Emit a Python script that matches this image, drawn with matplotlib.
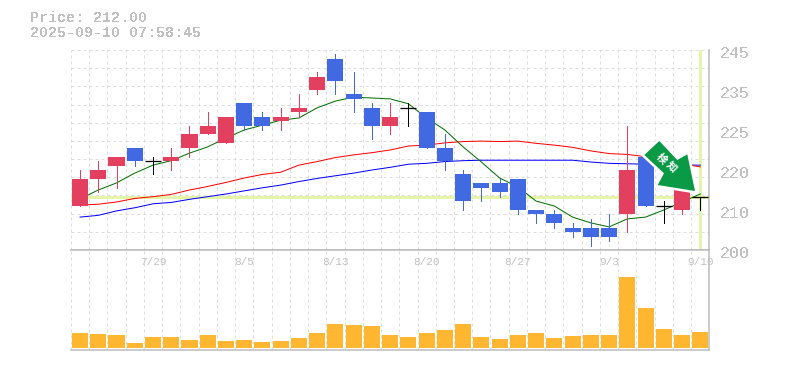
import numpy as np
import matplotlib
matplotlib.use("Agg")
import matplotlib.pyplot as plt
from matplotlib.patches import Polygon

W, H = 785, 370

# price data, 35 sessions
opens = [210, 216, 219, 223, 220, 220, 223, 226, 224, 233, 230, 229, 231, 236, 243, 235, 232, 228,
         232, 231, 223, 217, 215, 215, 216, 209, 208, 205, 205, 205, 208, 221, 210, 209, 212]
closes = [216, 218, 221, 220, 220, 221, 226, 228, 230, 228, 228, 230, 232, 239, 238, 234, 228, 230,
          232, 223, 220, 211, 214, 213, 209, 208, 206, 204, 203, 203, 218, 210, 210, 215, 212]
highs = [218, 220, 221, 223, 221, 223, 228, 231, 230, 233, 231, 232, 235, 240, 244, 240, 233, 233,
         233, 231, 226, 218, 215, 216, 216, 209, 209, 206, 207, 208, 228, 221, 211, 215, 212]
lows = [210, 213, 214, 219, 217, 218, 221, 226, 224, 227, 227, 227, 230, 235, 235, 231, 225, 226,
        228, 223, 218, 209, 211, 212, 208, 206, 205, 203, 201, 202, 204, 210, 206, 208, 209]

ma_short = [211.5, 213.5, 215.1, 217.3, 219.1, 220.1, 221.8, 223.2, 225.2, 227, 228.1, 229.2,
            229.7, 232, 233.5, 234.4, 234.2, 234, 232.9, 229.7, 227, 223.2, 219.8, 216.2, 214.2,
            211, 209.9, 207.4, 206.1, 205.2, 207, 207.4, 209, 210.8, 212.6]
ma_mid = [210.1, 210.3, 210.8, 211.6, 212, 212.5, 213.5, 214.3, 215.2, 216.2, 217, 217.5,
          219.1, 219.9, 220.8, 221.4, 221.9, 222.5, 223.4, 223.6, 224.1, 224.4, 224.5, 224.4,
          224.5, 224, 223.6, 223.1, 222.3, 221.7, 221.5, 221, 220.3, 219.4, 218.7]
ma_long = [207.4, 207.8, 208.8, 209.5, 210.4, 210.7, 211.4, 212, 212.6, 213.3, 214, 214.6,
           215.4, 216.1, 216.7, 217.3, 218, 218.6, 219.3, 219.5, 219.9, 220.1, 220.2, 220.2,
           220.2, 220.2, 220.2, 220.2, 219.8, 219.5, 219.4, 219.3, 219.1, 219.1, 219.1]
volume = [15, 14, 13, 5, 11, 11, 8, 13, 7, 8, 6, 7, 10, 15, 24, 23, 22, 13,
          11, 15, 18, 24, 11, 9, 13, 15, 10, 12, 13, 13, 71, 40, 19, 13, 16]

date_idx = [4, 9, 14, 19, 24, 29, 34]
date_labels = ["7/29", "8/5", "8/13", "8/20", "8/27", "9/3", "9/10"]
price_ticks = [245, 236, 227, 218, 209, 200]
price_labels = ["245", "235", "225", "220", "210", "200"]
price_now = 212.00
stamp = "2025-09-10 07:58:45"

UP = "#e3405f"
DOWN = "#4169e1"
GREY = "#c0c0c0"
PALE = "#e4f5a8"
GRID = "#dddddd"
px = 0.72

plt.rcParams["text.antialiased"] = False
plt.rcParams["font.family"] = ["Liberation Mono", "DejaVu Sans Mono"]

fig = plt.figure(figsize=(W / 100, H / 100), dpi=100)
left, width = 70.9 / W, 638.5 / W
ax1 = fig.add_axes([left, (H - 250) / H, width, 200 / H])
ax2 = fig.add_axes([left, (H - 350) / H, width, 100 / H])

x = np.arange(len(opens))
for ax in (ax1, ax2):
    ax.set_xlim(-0.5, 34.5)
    ax.set_xticks(np.arange(-0.5, 35))
    ax.tick_params(length=0, labelbottom=False, labelleft=False)
    ax.grid(axis="x", color=GRID, lw=1.0 * px, ls=(0, (3, 3)))
    ax.set_axisbelow(True)
    ax.spines["left"].set_visible(False)
    for side in ("top", "right", "bottom"):
        ax.spines[side].set_color("#bbbbbb")
        ax.spines[side].set_linewidth(1.5 * px)
ax1.spines["top"].set_visible(False)

# price panel
ax1.set_ylim(200, 245)
ax1.set_yticks(np.linspace(200, 245, 12))
ax1.grid(axis="y", color=GRID, lw=1.0 * px, ls=(0, (3, 3)))
for tick in ax1.yaxis.get_major_ticks():
    tick.gridline.set_clip_on(False)

ax1.axhline(price_now, color=PALE, lw=3 * px, zorder=1)
ax1.axvline(34, ymin=0.01, color=PALE, lw=3 * px, zorder=1)

ax1.plot(x, ma_long, color="#0000ff", lw=1.0 * px, zorder=2)
ax1.plot(x, ma_mid, color="#ff0000", lw=1.0 * px, zorder=2)
ax1.plot(x, ma_short, color="#006f00", lw=1.0 * px, zorder=2)

for i in x:
    o, c = opens[i], closes[i]
    if o == c:
        col = "black"
        ax1.hlines(o, i - 0.44, i + 0.44, color=col, lw=1.3 * px, zorder=3)
    else:
        col = UP if c > o else DOWN
        ax1.bar(i, abs(c - o), bottom=min(o, c), width=0.88, color=col, antialiased=False, zorder=3)
    ax1.vlines(i, lows[i], highs[i], color=col, lw=1.0 * px, antialiased=False,
               zorder=2.5 if o != c else 3)

for tick, label in zip(price_ticks, price_labels):
    ax1.annotate(label, xy=(1, tick), xycoords=("axes fraction", "data"), xytext=(7.5, -2.2),
                 textcoords="offset points", va="center", ha="left", color=GREY, fontsize=12,
                 annotation_clip=False)

# volume panel
ax2.set_ylim(-2, 98)
ax2.set_yticks([])
ax2.bar(x, volume, width=0.88, color="#ffb732", antialiased=False, zorder=2)
for i, label in zip(date_idx, date_labels):
    ax2.annotate(label, xy=(i, 1), xycoords=("data", "axes fraction"), xytext=(0, -8.6),
                 textcoords="offset points", va="center", ha="center", color=GREY, fontsize=8,
                 annotation_clip=False, antialiased=True)

# header
fig.text(30 / W, 1 - 18 / H, f"Price: {price_now:.2f}", color=GREY, fontsize=10.8, va="center",
         fontweight="bold")
fig.text(30 / W, 1 - 33 / H, stamp, color=GREY, fontsize=10.8, va="center", fontweight="bold")

# signal arrow, pixel outline from the picture
arrow_px = [(659.3, 141), (677.3, 160), (687.3, 154.3), (695, 191), (657.7, 185), (664, 173.3), (644.3, 155)]
arrow_fig = [(a / W, 1 - b / H) for a, b in arrow_px]
fig.add_artist(Polygon(arrow_fig, closed=True, facecolor="#0a9a46", edgecolor="white", lw=5 * px,
                       joinstyle="miter", transform=fig.transFigure, zorder=5))
fig.add_artist(Polygon(arrow_fig, closed=True, facecolor="#0a9a46", edgecolor="none",
                       transform=fig.transFigure, zorder=6))
for ch, cx, cy in [("検", 661.7, 158.3), ("知", 671.7, 166.7)]:
    fig.text(cx / W, 1 - cy / H, ch, color="white", fontsize=7.5, fontweight="bold", rotation=-45,
             ha="center", va="center", rotation_mode="anchor",
             family=["Noto Sans CJK JP", "DejaVu Sans"], antialiased=True, zorder=7)

fig.savefig("out.png", dpi=100, facecolor="white")
